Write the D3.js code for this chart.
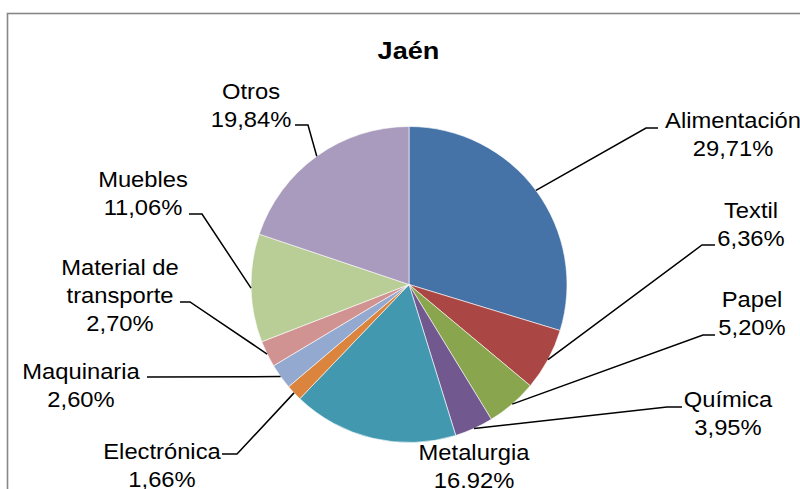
<!DOCTYPE html>
<html>
<head>
<meta charset="utf-8">
<script src="https://cdn.jsdelivr.net/npm/d3@7"></script>
<style>
  html, body { margin: 0; padding: 0; background: #fff; }
  svg { display: block; font-family: "Liberation Sans", Arial, sans-serif; }
</style>
</head>
<body>
<div class="chart"></div>
<script>
// chart data
var title = 'Jaén';
var categories = ['Alimentación', 'Textil', 'Papel', 'Química', 'Metalurgia',
  'Electrónica', 'Maquinaria', 'Material de transporte', 'Muebles', 'Otros'];
var values = [29.71, 6.36, 5.20, 3.95, 16.92, 1.66, 2.60, 2.70, 11.06, 19.84];
var valueLabels = ['29,71%', '6,36%', '5,20%', '3,95%', '16.92%', '1,66%',
  '2,60%', '2,70%', '11,06%', '19,84%'];
var colors = ['#4572A7', '#AA4643', '#89A54E', '#71588F', '#4198AF',
  '#DB843D', '#93A9CF', '#D19392', '#B9CD96', '#A99BBD'];

// label placement: text centre x, first baseline, leader start / elbow
var labelLayout = [
  { x: 733, y: 128, wrap: false, lead: [[658, 128], [646, 128]] },
  { x: 751, y: 218, wrap: false, lead: [[715, 245], [702, 245]] },
  { x: 752, y: 307, wrap: false, lead: [[715, 335], [703, 335]] },
  { x: 728, y: 407, wrap: false, lead: [[682, 407], [667, 407]] },
  { x: 474, y: 460, wrap: false, lead: null },
  { x: 162, y: 459, wrap: false, lead: [[222, 454], [237, 454]] },
  { x: 81,  y: 379, wrap: false, lead: [[147, 377], [150, 377]] },
  { x: 120, y: 275, wrap: true,  lead: [[180, 302], [190, 302]] },
  { x: 143, y: 187, wrap: false, lead: [[189, 214], [202, 214]] },
  { x: 251, y: 99,  wrap: false, lead: [[295, 125], [308, 125]] }
];

(function() {
  'use strict';

  var width = 800, height = 489;
  var cx = 409, cy = 284.5, radius = 158;
  var lineH = 27.8;

  var svg = d3.select('.chart').append('svg')
    .attr('width', width)
    .attr('height', height);

  svg.append('rect')
    .attr('width', width).attr('height', height)
    .attr('fill', '#fff');

  // chart frame (cut off at right/bottom in the source)
  svg.append('rect')
    .attr('x', 7.5).attr('y', 13.5)
    .attr('width', 1000).attr('height', 1000)
    .attr('fill', 'none')
    .attr('stroke', '#878787')
    .attr('stroke-width', 1.6);

  svg.append('text')
    .attr('transform', 'translate(408.5,59) scale(1.13,1)')
    .attr('text-anchor', 'middle')
    .attr('font-size', 24)
    .attr('font-weight', 'bold')
    .attr('fill', '#000')
    .text(title);

  var pie = d3.pie().sort(null).value(function(d) { return d; });
  var arcs = pie(values);
  var arc = d3.arc().innerRadius(0).outerRadius(radius);

  var g = svg.append('g').attr('transform', 'translate(' + cx + ',' + cy + ')');

  g.selectAll('path')
    .data(arcs)
    .enter()
    .append('path')
    .attr('d', arc)
    .attr('fill', function(d, i) { return colors[i]; })
    .attr('stroke', '#fff')
    .attr('stroke-width', 0.6);

  // leader lines
  var line = d3.line();
  arcs.forEach(function(d, i) {
    var lay = labelLayout[i];
    if (!lay.lead) return;
    var mid = (d.startAngle + d.endAngle) / 2;
    var px = cx + radius * Math.sin(mid);
    var py = cy - radius * Math.cos(mid);
    svg.append('path')
      .attr('d', line([lay.lead[0], lay.lead[1], [px, py]]))
      .attr('fill', 'none')
      .attr('stroke', '#000')
      .attr('stroke-width', 1.5);
  });

  // labels
  arcs.forEach(function(d, i) {
    var lay = labelLayout[i];
    var name = categories[i];
    var lines = [];
    if (lay.wrap) {
      var cut = name.lastIndexOf(' ');
      lines.push(name.slice(0, cut), name.slice(cut + 1));
    } else {
      lines.push(name);
    }
    lines.push(valueLabels[i]);
    lines.forEach(function(t, j) {
      svg.append('text')
        .attr('transform', 'translate(' + lay.x + ',' + (lay.y + j * lineH) + ') scale(1.08,1)')
        .attr('text-anchor', 'middle')
        .attr('font-size', 22)
        .attr('fill', '#000')
        .text(t);
    });
  });
})();
</script>
</body>
</html>
